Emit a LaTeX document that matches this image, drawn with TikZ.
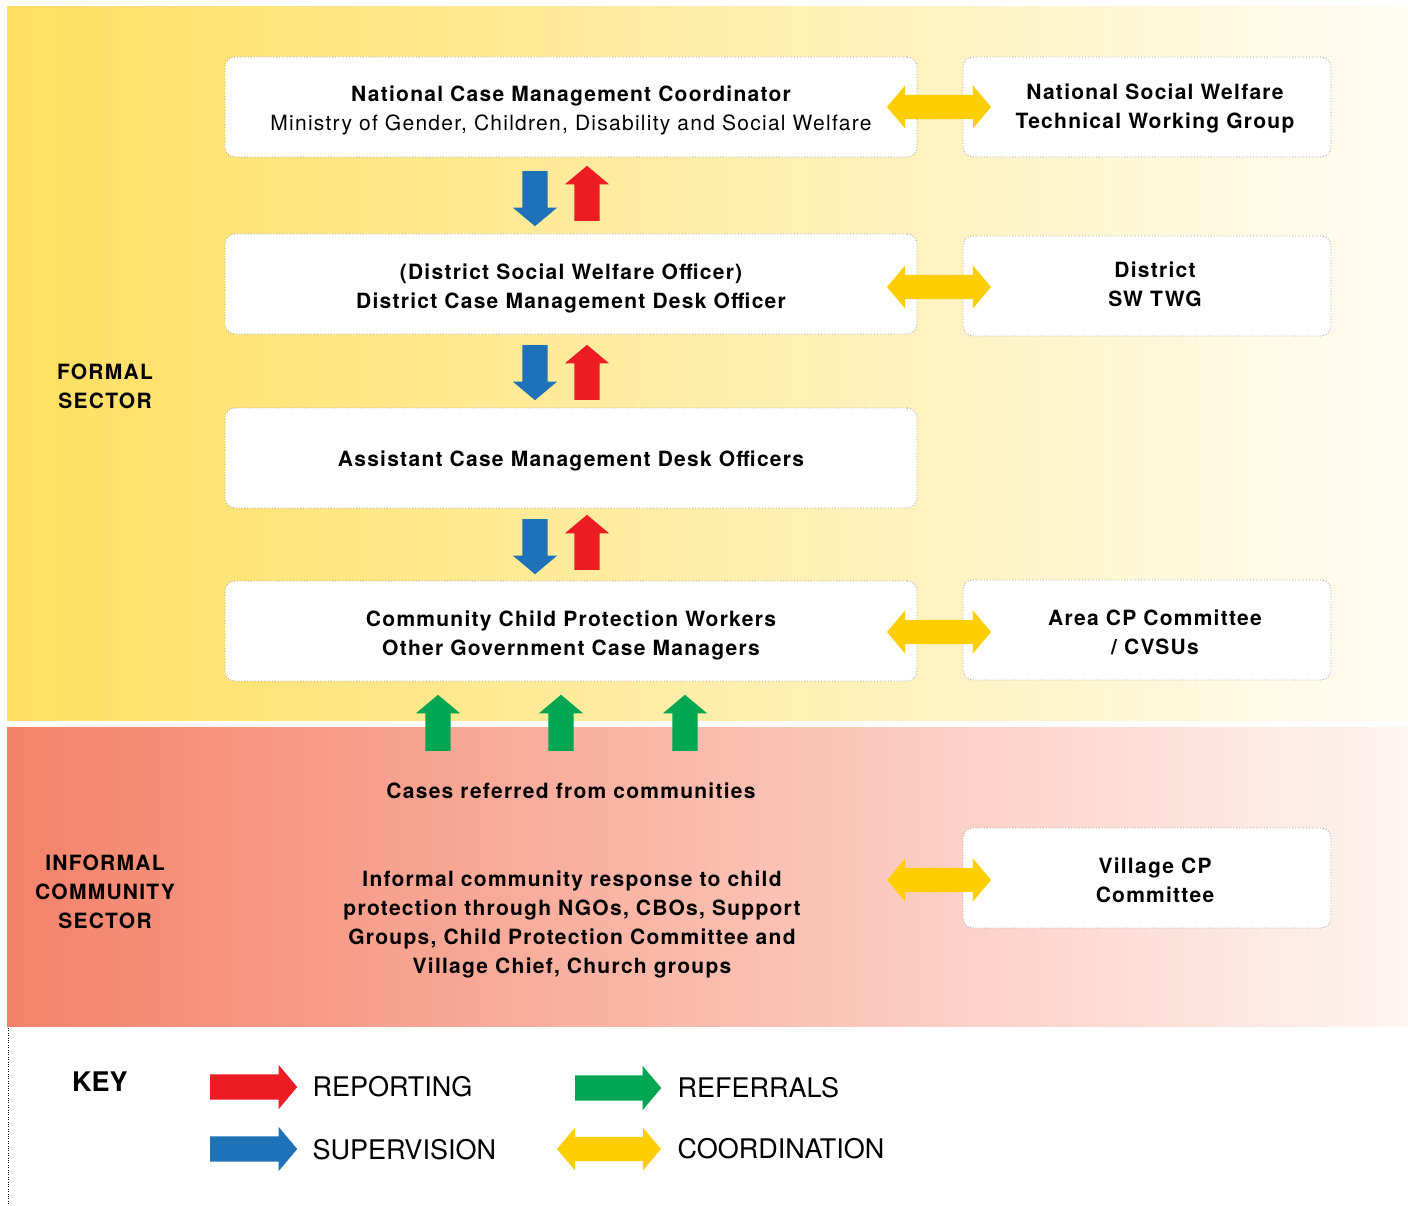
\documentclass[tikz,border=0pt]{standalone}
\usepackage{fontspec}
\setmainfont{TeX Gyre Heros}
\newfontfamily\boxfont[LetterSpace=6]{TeX Gyre Heros}
\usetikzlibrary{shapes.arrows}
\definecolor{rptred}{HTML}{ED1C24}
\definecolor{supblue}{HTML}{1F71B8}
\definecolor{refgreen}{HTML}{00A651}
\definecolor{crdyellow}{HTML}{FFCE00}
\definecolor{formalleft}{HTML}{FFDF60}
\definecolor{formalright}{HTML}{FFFDF4}
\definecolor{informalleft}{HTML}{F4826A}
\definecolor{informalright}{HTML}{FFF5F1}
\begin{document}
\begin{tikzpicture}[x=1pt,y=-1pt,
    boxtext/.style={font=\boxfont\bfseries\fontsize{21}{29}\selectfont,align=center},
    cmbox/.style={draw=gray!80,dotted,line width=0.8pt,fill=white,rounded corners=10pt,
      minimum width=692pt,minimum height=100pt},
    sidebox/.style={cmbox,minimum width=368pt},
    varrow/.style={shape=single arrow,inner sep=12.5pt,minimum width=44pt,anchor=tail,
      single arrow head extend=9.5pt,single arrow tip angle=100},
    supv/.style={varrow,fill=supblue,rotate=-90,minimum height=55pt},
    rept/.style={varrow,fill=rptred,rotate=90,minimum height=55pt},
    refr/.style={varrow,fill=refgreen,rotate=90,minimum height=56pt},
    coord/.style={shape=double arrow,fill=crdyellow,inner sep=12pt,minimum width=43pt,
      double arrow head extend=9.5pt,double arrow tip angle=100,minimum height=104pt},
    keytext/.style={anchor=west,font=\fontsize{27}{30}\selectfont}]
  \useasboundingbox (0,0) rectangle (1408,1206);
  % background bands
  \shade[left color=formalleft,right color=formalright] (7,7) rectangle (1408,720);
  \shade[left color=informalleft,right color=informalright] (7,727) rectangle (1408,1026);
  \draw[dotted,thin] (8,1028) -- (8,1206);

  % sector labels
  \node[boxtext] (formal) at (105,386) {FORMAL\\SECTOR};
  \node[boxtext] (informal) at (105,892) {INFORMAL\\COMMUNITY\\SECTOR};

  % main column
  \node[cmbox] (ncmc) at (571,107) {};
  \node[boxtext,yshift=-3.5pt] (ncmctxt) at (ncmc) {National Case Management Coordinator\\
    \mdseries Ministry of Gender, Children, Disability and Social Welfare};
  \node[cmbox] (dcmo) at (571,284) {};
  \node[boxtext,yshift=-4pt] (dcmotxt) at (dcmo) {(District Social Welfare Officer)\\
    District Case Management Desk Officer};
  \node[cmbox] (acmo) at (571,458) {};
  \node[boxtext,yshift=-3pt] (acmotxt) at (acmo) {Assistant Case Management Desk Officers};
  \node[cmbox] (ccpw) at (571,631) {};
  \node[boxtext,yshift=-4pt] (ccpwtxt) at (ccpw) {Community Child Protection Workers\\
    Other Government Case Managers};

  % right column
  \node[sidebox] (nswtwg) at (1147,107) {};
  \node[boxtext,xshift=8pt,yshift=-1pt] (nswtwgtxt) at (nswtwg)
    {National Social Welfare\\Technical Working Group};
  \node[sidebox] (dswtwg) at (1147,286) {};
  \node[boxtext,xshift=8pt,yshift=2pt] (dswtwgtxt) at (dswtwg) {District\\SW TWG};
  \node[sidebox] (areacp) at (1147,630) {};
  \node[boxtext,xshift=8pt,yshift=-2pt] (areacptxt) at (areacp) {Area CP Committee\\/ CVSUs};
  \node[sidebox] (villcp) at (1147,878) {};
  \node[boxtext,xshift=8pt,yshift=-2pt] (villcptxt) at (villcp) {Village CP\\Committee};

  % supervision / reporting
  \node[supv] (sup1) at (535,171) {};
  \node[rept] (rep1) at (587,221) {};
  \node[supv] (sup2) at (535,345) {};
  \node[rept] (rep2) at (587,400) {};
  \node[supv] (sup3) at (535,519) {};
  \node[rept] (rep3) at (587,570) {};

  % coordination
  \node[coord] (crd1) at (939,107) {};
  \node[coord] (crd2) at (939,287) {};
  \node[coord] (crd3) at (939,632) {};
  \node[coord] (crd4) at (939,880) {};

  % referrals from communities
  \foreach \x/\n in {438/1,561/2,685/3}
    \node[refr] (ref\n) at (\x,751) {};
  \node[boxtext] (cases) at (571,791) {Cases referred from communities};
  \node[boxtext] (informresp) at (572,924) {Informal community response to child\\
    protection through NGOs, CBOs, Support\\Groups, Child Protection Committee and\\
    Village Chief, Church groups};

  % key
  \node[font=\bfseries\fontsize{27}{30}\selectfont] (key) at (100,1082) {KEY};
  \node[varrow,fill=rptred,minimum height=87pt] (krep) at (210,1087) {};
  \node[keytext] (kreptxt) at (309,1087) {REPORTING};
  \node[varrow,fill=supblue,minimum height=87pt] (ksup) at (210,1149) {};
  \node[keytext] (ksuptxt) at (309,1150) {SUPERVISION};
  \node[varrow,fill=refgreen,minimum height=86pt] (kref) at (575,1088) {};
  \node[keytext] (kreftxt) at (674,1088) {REFERRALS};
  \node[coord] (kcrd) at (609,1149) {};
  \node[keytext] (kcrdtxt) at (674,1149) {COORDINATION};
\end{tikzpicture}
\end{document}
